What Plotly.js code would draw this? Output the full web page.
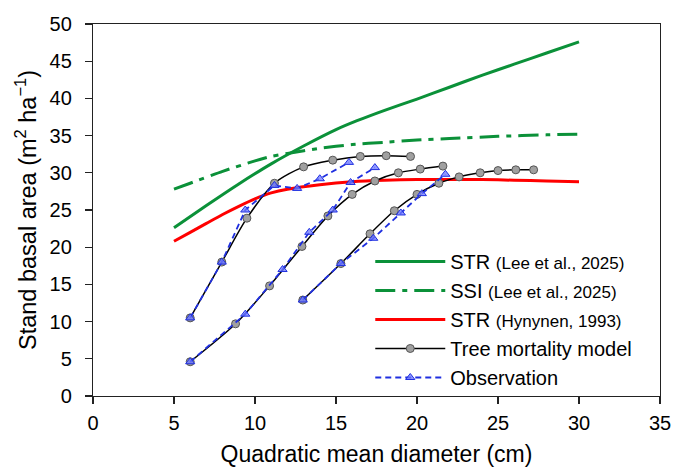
<!DOCTYPE html>
<html>
<head>
<meta charset="utf-8">
<script src="https://cdn.plot.ly/plotly-3.0.1.min.js"></script>
<style>html,body{margin:0;padding:0;background:#fff;}#chart{width:675px;height:469px;}</style>
</head>
<body>
<div id="chart"></div>
<script>
// Stand density lines
const strLeeX = [5, 7, 9, 11, 13, 15, 16.3, 18, 20, 22, 24, 26, 28, 30];
const strLeeY = [22.6, 25.6, 28.5, 31.2, 33.6, 35.8, 37.0, 38.4, 39.9, 41.5, 43.1, 44.6, 46.1, 47.6];
const ssiLeeX = [5, 6, 8, 10, 11, 12, 14, 16, 18, 20, 22, 25, 28, 30];
const ssiLeeY = [27.8, 28.6, 30.2, 31.6, 32.2, 32.6, 33.3, 33.8, 34.1, 34.4, 34.6, 34.9, 35.1, 35.2];
const strHynX = [5, 6, 7, 8, 9, 10, 11, 12, 14, 16, 18, 20, 22, 24, 26, 28, 30];
const strHynY = [20.8, 22.0, 23.2, 24.4, 25.5, 26.5, 27.3, 27.8, 28.4, 28.8, 29.0, 29.1, 29.1, 29.1, 29.0, 28.9, 28.8];

// Tree mortality model (three stands)
const model1X = [6.0, 7.95, 9.5, 11.2, 13.0, 14.8, 16.5, 18.1, 19.6];
const model1Y = [10.5, 18.0, 23.9, 28.6, 30.8, 31.7, 32.2, 32.3, 32.2];
const model2X = [6.0, 8.8, 10.9, 12.9, 14.5, 16.0, 17.4, 18.85, 20.2, 21.6];
const model2Y = [4.6, 9.7, 14.8, 20.1, 24.2, 27.1, 28.9, 30.0, 30.5, 30.9];
const model3X = [12.95, 15.3, 17.1, 18.6, 20.0, 21.35, 22.6, 23.9, 25.0, 26.1, 27.2];
const model3Y = [12.9, 17.8, 21.8, 24.9, 27.1, 28.6, 29.45, 30.0, 30.3, 30.4, 30.4];

// Observations (three stands)
const obs1X = [6.0, 7.95, 9.4, 11.2, 12.6, 14.0, 15.8];
const obs1Y = [10.5, 18.0, 25.0, 28.3, 27.9, 29.2, 31.4];
const obs2X = [6.0, 9.4, 11.7, 13.35, 14.8, 15.9, 17.4];
const obs2Y = [4.6, 11.0, 17.0, 22.0, 25.0, 28.7, 30.7];
const obs3X = [12.95, 15.3, 17.3, 19.0, 20.3, 21.75];
const obs3Y = [12.9, 17.8, 21.2, 24.6, 27.2, 29.8];

const xTicks = [0, 5, 10, 15, 20, 25, 30, 35];
const yTicks = [0, 5, 10, 15, 20, 25, 30, 35, 40, 45, 50];

const green = '#0b9139';
const blue = '#1f2fe0';
const FONT = 'Liberation Sans, Arial, sans-serif';

const modelStyle = {
  mode: 'lines+markers',
  line: {color: '#000', width: 1.5, shape: 'spline', smoothing: 0.8},
  marker: {symbol: 'circle', size: 8, color: '#a0a0a0', line: {color: '#555', width: 1}}
};
const obsStyle = {
  mode: 'lines+markers',
  line: {color: blue, width: 1.8, dash: '6px,4px'},
  marker: {symbol: 'triangle-up', size: 8, color: 'rgba(110,120,255,0.75)', line: {color: blue, width: 1}}
};

const traces = [
  {x: strLeeX, y: strLeeY, mode: 'lines', line: {color: green, width: 3, shape: 'spline', smoothing: 0.6},
   name: 'STR <span style="font-size:17px">(Lee et al., 2025)</span>'},
  {x: ssiLeeX, y: ssiLeeY, mode: 'lines', line: {color: green, width: 3, dash: '20px,7px,5px,7px', shape: 'spline', smoothing: 0.6},
   name: 'SSI <span style="font-size:17px">(Lee et al., 2025)</span>'},
  {x: strHynX, y: strHynY, mode: 'lines', line: {color: '#ff0000', width: 3, shape: 'spline', smoothing: 0.6},
   name: 'STR <span style="font-size:17px">(Hynynen, 1993)</span>'},
  Object.assign({x: model1X, y: model1Y, name: 'Tree mortality model', legendgroup: 'm'}, modelStyle),
  Object.assign({x: model2X, y: model2Y, name: 'Tree mortality model', legendgroup: 'm', showlegend: false}, modelStyle),
  Object.assign({x: model3X, y: model3Y, name: 'Tree mortality model', legendgroup: 'm', showlegend: false}, modelStyle),
  Object.assign({x: obs1X, y: obs1Y, name: 'Observation', legendgroup: 'o'}, obsStyle),
  Object.assign({x: obs2X, y: obs2Y, name: 'Observation', legendgroup: 'o', showlegend: false}, obsStyle),
  Object.assign({x: obs3X, y: obs3Y, name: 'Observation', legendgroup: 'o', showlegend: false}, obsStyle)
];

const layout = {
  width: 675, height: 469,
  margin: {l: 92.5, r: 15, t: 24, b: 73},
  paper_bgcolor: '#fff', plot_bgcolor: '#fff',
  font: {family: FONT, size: 20, color: '#000'},
  showlegend: true,
  legend: {x: 0.489, y: 0.414, xanchor: 'left', yanchor: 'top', bgcolor: 'rgba(0,0,0,0)',
           font: {family: FONT, size: 20, color: '#000'}, itemwidth: 70, tracegroupgap: 0},
  xaxis: {
    range: [0, 35], tickvals: xTicks, ticktext: xTicks.map(String),
    showgrid: false, zeroline: false, showline: true, linecolor: '#222', linewidth: 1.2, mirror: true,
    ticks: 'outside', ticklen: 7, tickcolor: '#222', tickwidth: 1.2,
    tickfont: {family: FONT, size: 20, color: '#000'}, ticklabelstandoff: 2,
    title: {text: 'Quadratic mean diameter (cm)', font: {family: FONT, size: 23, color: '#000'}, standoff: 12}
  },
  yaxis: {
    range: [0, 50], tickvals: yTicks, ticktext: yTicks.map(String),
    showgrid: false, zeroline: false, showline: true, linecolor: '#222', linewidth: 1.2, mirror: true,
    ticks: 'outside', ticklen: 7, tickcolor: '#222', tickwidth: 1.2,
    tickfont: {family: FONT, size: 20, color: '#000'}, ticklabelstandoff: 9,
    title: {text: 'Stand basal area (m<sup>2</sup> ha<sup>\u22121</sup>)', font: {family: FONT, size: 23.5, color: '#000'}, standoff: 6}
  }
};

Plotly.newPlot('chart', traces, layout, {displayModeBar: false, staticPlot: true});
</script>
</body>
</html>
